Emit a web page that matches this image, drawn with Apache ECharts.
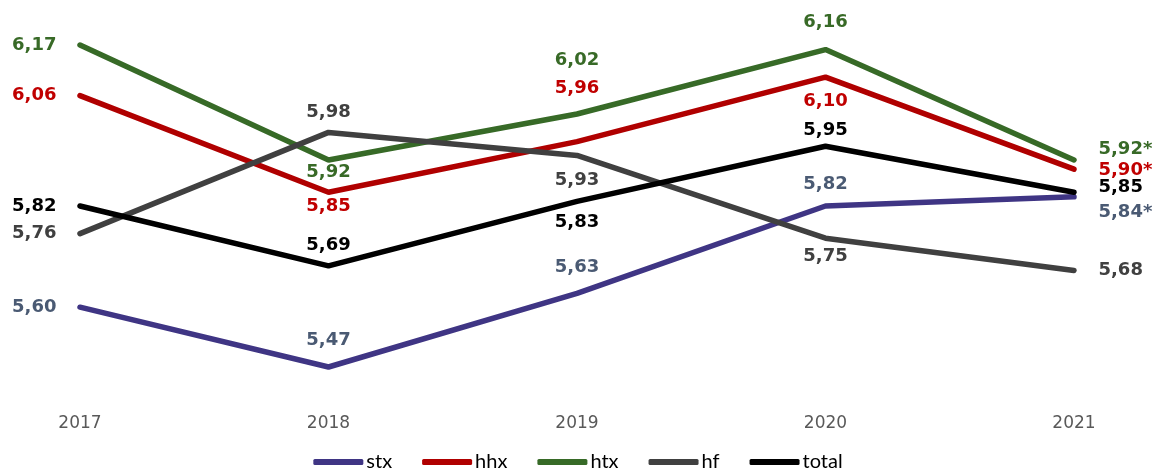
<!DOCTYPE html>
<html><head><meta charset="utf-8">
<script src="https://cdn.jsdelivr.net/npm/echarts@6/dist/echarts.min.js"></script>
<style>html,body{margin:0;padding:0;background:#fff}#c{width:1156px;height:470px}</style>
</head><body><div id="c"></div>
<script>
const years = ['2017', '2018', '2019', '2020', '2021'];
const stx   = [5.60, 5.47, 5.63, 5.82, 5.84];
const hhx   = [6.06, 5.85, 5.96, 6.10, 5.90];
const htx   = [6.17, 5.92, 6.02, 6.16, 5.92];
const hf    = [5.76, 5.98, 5.93, 5.75, 5.68];
const total = [5.82, 5.69, 5.83, 5.95, 5.85];
// footnote marks per point
const stxNote   = ['', '', '', '', '*'];
const hhxNote   = ['', '', '', '', '*'];
const htxNote   = ['', '', '', '', '*'];
const hfNote    = ['', '', '', '', ''];
const totalNote = ['', '', '', '', ''];

// label vertical offsets (px) per point, for placement only
const labelDy = {
  stx:   [0, -27, -26, -22, 16],
  hhx:   [0, 14, -53, 24, 1],
  htx:   [0, 12, -54, -27, -11],
  hf:    [0, -20, 25, 18, 0],
  total: [0, -20, 21, -16, -5]
};

function mk(name, values, notes, color, labelColor, dys) {
  return {
    name, type: 'line', data: values.map((v, i) => {
      let label;
      if (i === 0) label = { position: 'left', distance: 23, offset: [0, dys[i]] };
      else if (i === values.length - 1) label = { position: 'right', distance: 24, offset: [0, dys[i]] };
      else label = { position: 'inside', offset: [0, dys[i]] };
      label.formatter = v.toFixed(2).replace('.', ',') + notes[i];
      return { value: v, label };
    }),
    symbol: 'circle', symbolSize: 1, showSymbol: true,
    itemStyle: { color },
    lineStyle: { color, width: 5.5, cap: 'round' },
    label: { show: true, color: labelColor, fontFamily: 'DejaVu Sans', fontWeight: 'bold', fontSize: 18 },
    emphasis: { disabled: true },
    animation: false
  };
}

const chart = echarts.init(document.getElementById('c'), null, { renderer: 'canvas' });
chart.setOption({
  animation: false,
  grid: { left: 80, right: 82, top: 31.2, bottom: 70.8 },
  xAxis: {
    type: 'category', data: years, boundaryGap: false,
    axisLine: { show: false }, axisTick: { show: false },
    axisLabel: { color: '#595959', fontFamily: 'DejaVu Sans', fontSize: 17, margin: 16 }
  },
  yAxis: {
    type: 'value', min: 5.4, max: 6.2, show: false, splitLine: { show: false }
  },
  legend: {
    top: 452, left: 'center', icon: 'roundRect', itemWidth: 50, itemHeight: 6, itemGap: 30,
    padding: 0,
    textStyle: { color: '#000', fontFamily: 'Lato', fontSize: 20, padding: [0, 0, 0, -2] },
    data: ['stx', 'hhx', 'htx', 'hf', 'total']
  },
  series: [
    mk('stx', stx, stxNote, '#3f3584', '#4a5a73', labelDy.stx),
    mk('hhx', hhx, hhxNote, '#b00000', '#c00000', labelDy.hhx),
    mk('htx', htx, htxNote, '#376a27', '#386a27', labelDy.htx),
    mk('hf', hf, hfNote, '#404040', '#404040', labelDy.hf),
    mk('total', total, totalNote, '#000000', '#000000', labelDy.total)
  ]
});
</script></body></html>
